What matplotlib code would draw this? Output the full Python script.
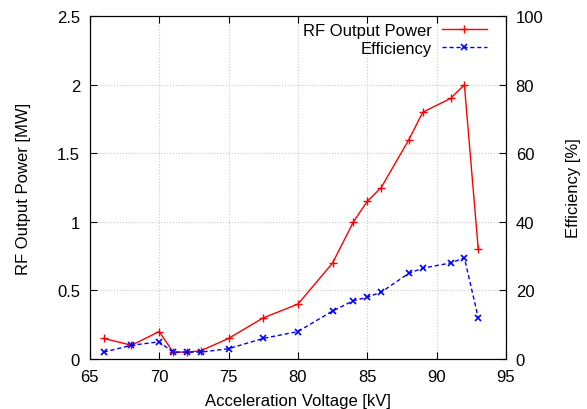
import matplotlib.pyplot as plt
from matplotlib.ticker import MultipleLocator

plt.rcParams['font.family'] = ['Liberation Sans', 'DejaVu Sans']

# Data
voltage = [66, 68, 70, 71, 72, 73, 75, 77.5, 80, 82.5, 84, 85, 86, 88, 89, 91, 92, 93]
power = [0.15, 0.1, 0.2, 0.05, 0.05, 0.06, 0.15, 0.3, 0.4, 0.7, 1.0, 1.15, 1.25, 1.6, 1.8, 1.9, 2.0, 0.8]
efficiency = [2, 4, 5, 2, 2, 2, 3, 6, 8, 14, 17, 18, 19.5, 25, 26.5, 28, 29.5, 12]

fig = plt.figure(figsize=(5.87, 4.10), dpi=100)
ax = fig.add_axes([0.153, 0.122, 0.709, 0.836])
ax2 = ax.twinx()

l1, = ax.plot(voltage, power, color='#ff0000', lw=1, marker='+', ms=6, mew=1,
              label='RF Output Power')
l2, = ax2.plot(voltage, efficiency, color='#0000ff', lw=1, ls=(0, (3, 2)),
               marker='x', ms=5, mew=1.2, label='Efficiency')

ax.set_xlim(65, 95)
ax.set_ylim(0, 2.5)
ax2.set_ylim(0, 100)
ax.xaxis.set_major_locator(MultipleLocator(5))
ax2.yaxis.set_major_locator(MultipleLocator(20))
ax.set_yticks([0, 0.5, 1, 1.5, 2, 2.5], ['0', '0.5', '1', '1.5', '2', '2.5'])

ax.grid(True, color='#c8c8c8', ls=':', lw=0.8)
ax.tick_params(direction='in', top=True, labelsize=12, length=5, pad=7)
ax.tick_params(axis='y', right=False)
ax2.tick_params(direction='in', labelsize=12, length=5, pad=7)

ax.set_xlabel('Acceleration Voltage [kV]', fontsize=12, labelpad=7)
ax.set_ylabel('RF Output Power [MW]', fontsize=12, labelpad=19)
ax2.set_ylabel('Efficiency [%]', fontsize=12, labelpad=16)

ax2.legend(handles=[l1, l2], loc='upper right', bbox_to_anchor=(0.954, 0.98),
           frameon=False, fontsize=12, markerfirst=False, handlelength=2.7,
           borderaxespad=0, borderpad=0, labelspacing=0.15, handletextpad=0.6)

fig.savefig('out.png', dpi=100)
